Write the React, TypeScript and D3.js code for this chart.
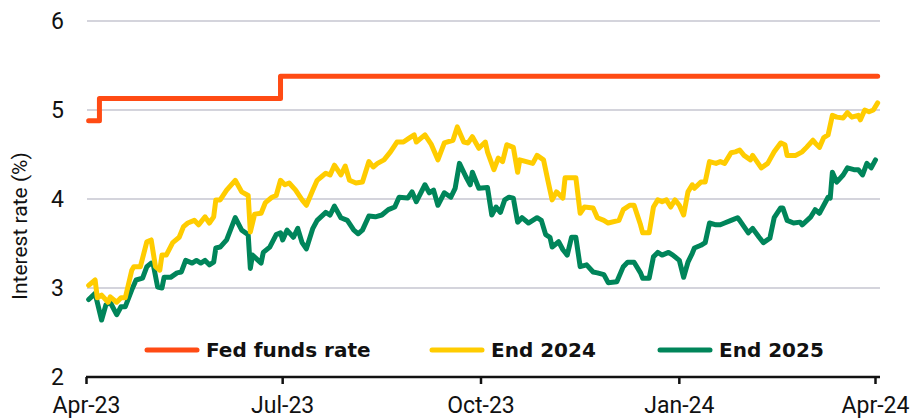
import React, { useEffect, useRef } from "react";
import * as d3 from "d3";

// Fed funds rate (step series)
const fedDates = ["2023-04-02", "2023-04-07", "2023-06-30", "2024-04-02"];
const fedValues = [4.88, 5.13, 5.38, 5.38];

// Market-implied rate at end of 2024
const end2024Dates = [
  "2023-04-02", "2023-04-05", "2023-04-06", "2023-04-08", "2023-04-11", "2023-04-12", "2023-04-15", "2023-04-17",
  "2023-04-19", "2023-04-22", "2023-04-23", "2023-04-26", "2023-04-29", "2023-05-01", "2023-05-03", "2023-05-05",
  "2023-05-06", "2023-05-08", "2023-05-11", "2023-05-14", "2023-05-16", "2023-05-18", "2023-05-21", "2023-05-23",
  "2023-05-26", "2023-05-28", "2023-05-30", "2023-05-31", "2023-06-02", "2023-06-05", "2023-06-09", "2023-06-12",
  "2023-06-15", "2023-06-16", "2023-06-18", "2023-06-21", "2023-06-23", "2023-06-26", "2023-06-28", "2023-06-30",
  "2023-07-02", "2023-07-04", "2023-07-07", "2023-07-10", "2023-07-12", "2023-07-15", "2023-07-17", "2023-07-19",
  "2023-07-21", "2023-07-23", "2023-07-25", "2023-07-28", "2023-07-30", "2023-08-01", "2023-08-04", "2023-08-07",
  "2023-08-10", "2023-08-12", "2023-08-14", "2023-08-17", "2023-08-20", "2023-08-23", "2023-08-26", "2023-08-29",
  "2023-08-31", "2023-09-01", "2023-09-05", "2023-09-08", "2023-09-11", "2023-09-14", "2023-09-18", "2023-09-20",
  "2023-09-23", "2023-09-25", "2023-09-27", "2023-09-30", "2023-10-03", "2023-10-04", "2023-10-07", "2023-10-09",
  "2023-10-11", "2023-10-13", "2023-10-16", "2023-10-18", "2023-10-19", "2023-10-22", "2023-10-25", "2023-10-27",
  "2023-10-30", "2023-11-01", "2023-11-03", "2023-11-05", "2023-11-08", "2023-11-09", "2023-11-14", "2023-11-16",
  "2023-11-18", "2023-11-22", "2023-11-24", "2023-11-27", "2023-11-29", "2023-12-04", "2023-12-06", "2023-12-09",
  "2023-12-11", "2023-12-14", "2023-12-15", "2023-12-18", "2023-12-20", "2023-12-22", "2023-12-24", "2023-12-26",
  "2023-12-28", "2023-12-30", "2024-01-01", "2024-01-03", "2024-01-05", "2024-01-07", "2024-01-08", "2024-01-11",
  "2024-01-13", "2024-01-15", "2024-01-18", "2024-01-20", "2024-01-22", "2024-01-25", "2024-01-27", "2024-01-29",
  "2024-01-31", "2024-02-03", "2024-02-04", "2024-02-08", "2024-02-11", "2024-02-14", "2024-02-17", "2024-02-19",
  "2024-02-20", "2024-02-24", "2024-02-27", "2024-02-29", "2024-03-03", "2024-03-04", "2024-03-06", "2024-03-08",
  "2024-03-10", "2024-03-12", "2024-03-14", "2024-03-17", "2024-03-19", "2024-03-21", "2024-03-24", "2024-03-25",
  "2024-03-27", "2024-03-29", "2024-03-31", "2024-04-02",
];
const end2024Values = [
  3.03, 3.09, 2.89, 2.92, 2.84, 2.9, 2.84, 2.89,
  2.89, 3.2, 3.24, 3.24, 3.52, 3.54, 3.24, 3.2,
  3.37, 3.37, 3.51, 3.57, 3.69, 3.73, 3.76, 3.71,
  3.8, 3.73, 3.8, 3.99, 3.99, 4.1, 4.21, 4.08,
  4.04, 3.63, 3.83, 3.84, 3.96, 4.02, 4.04, 4.21,
  4.16, 4.18, 4.1, 3.99, 3.93, 4.1, 4.21, 4.25,
  4.29, 4.27, 4.38, 4.27, 4.37, 4.21, 4.18, 4.19,
  4.42, 4.36, 4.4, 4.44, 4.53, 4.64, 4.64, 4.69,
  4.72, 4.64, 4.72, 4.61, 4.44, 4.63, 4.66, 4.81,
  4.64, 4.63, 4.7, 4.57, 4.64, 4.53, 4.33, 4.46,
  4.42, 4.61, 4.58, 4.3, 4.44, 4.42, 4.4, 4.49,
  4.44, 4.21, 3.99, 4.08, 4.01, 4.24, 4.24, 3.84,
  3.91, 3.9, 3.79, 3.76, 3.73, 3.76, 3.88, 3.93,
  3.93, 3.71, 3.62, 3.62, 3.91, 3.99, 3.97, 3.99,
  3.91, 3.99, 3.93, 3.82, 4.08, 4.16, 4.12, 4.19,
  4.19, 4.42, 4.4, 4.42, 4.4, 4.52, 4.53, 4.55,
  4.49, 4.44, 4.49, 4.35, 4.4, 4.53, 4.63, 4.61,
  4.49, 4.49, 4.53, 4.58, 4.66, 4.63, 4.58, 4.69,
  4.72, 4.94, 4.92, 4.91, 4.97, 4.92, 4.94, 4.89,
  5.0, 4.98, 5.0, 5.08,
];

// Market-implied rate at end of 2025
const end2025Dates = [
  "2023-04-02", "2023-04-05", "2023-04-08", "2023-04-10", "2023-04-12", "2023-04-15", "2023-04-17", "2023-04-19",
  "2023-04-22", "2023-04-24", "2023-04-27", "2023-04-29", "2023-05-01", "2023-05-02", "2023-05-04", "2023-05-06",
  "2023-05-07", "2023-05-10", "2023-05-13", "2023-05-15", "2023-05-17", "2023-05-20", "2023-05-22", "2023-05-24",
  "2023-05-26", "2023-05-28", "2023-05-30", "2023-05-31", "2023-06-02", "2023-06-05", "2023-06-09", "2023-06-12",
  "2023-06-15", "2023-06-16", "2023-06-17", "2023-06-21", "2023-06-22", "2023-06-25", "2023-06-28", "2023-06-30",
  "2023-07-01", "2023-07-03", "2023-07-06", "2023-07-08", "2023-07-10", "2023-07-12", "2023-07-15", "2023-07-17",
  "2023-07-21", "2023-07-23", "2023-07-25", "2023-07-28", "2023-07-31", "2023-08-03", "2023-08-05", "2023-08-07",
  "2023-08-10", "2023-08-13", "2023-08-16", "2023-08-19", "2023-08-22", "2023-08-24", "2023-08-28", "2023-08-30",
  "2023-09-01", "2023-09-05", "2023-09-07", "2023-09-09", "2023-09-11", "2023-09-14", "2023-09-17", "2023-09-19",
  "2023-09-21", "2023-09-24", "2023-09-26", "2023-09-27", "2023-09-30", "2023-10-04", "2023-10-06", "2023-10-08",
  "2023-10-10", "2023-10-12", "2023-10-14", "2023-10-16", "2023-10-18", "2023-10-20", "2023-10-23", "2023-10-27",
  "2023-10-29", "2023-10-31", "2023-11-02", "2023-11-03", "2023-11-06", "2023-11-08", "2023-11-10", "2023-11-12",
  "2023-11-14", "2023-11-16", "2023-11-19", "2023-11-22", "2023-11-24", "2023-11-27", "2023-11-29", "2023-12-03",
  "2023-12-06", "2023-12-08", "2023-12-11", "2023-12-14", "2023-12-15", "2023-12-18", "2023-12-20", "2023-12-22",
  "2023-12-24", "2023-12-27", "2023-12-29", "2024-01-01", "2024-01-03", "2024-01-05", "2024-01-07", "2024-01-08",
  "2024-01-11", "2024-01-13", "2024-01-15", "2024-01-18", "2024-01-20", "2024-01-22", "2024-01-25", "2024-01-28",
  "2024-01-29", "2024-01-31", "2024-02-02", "2024-02-04", "2024-02-07", "2024-02-09", "2024-02-12", "2024-02-14",
  "2024-02-17", "2024-02-18", "2024-02-20", "2024-02-23", "2024-02-26", "2024-02-27", "2024-03-02", "2024-03-04",
  "2024-03-06", "2024-03-08", "2024-03-10", "2024-03-11", "2024-03-12", "2024-03-14", "2024-03-17", "2024-03-19",
  "2024-03-22", "2024-03-24", "2024-03-26", "2024-03-28", "2024-03-30", "2024-04-01",
];
const end2025Values = [
  2.87, 2.94, 2.64, 2.81, 2.84, 2.7, 2.79, 2.79,
  2.98, 3.09, 3.11, 3.24, 3.28, 3.26, 3.01, 3.0,
  3.12, 3.12, 3.17, 3.18, 3.31, 3.28, 3.31, 3.28,
  3.31, 3.26, 3.29, 3.45, 3.46, 3.54, 3.79, 3.65,
  3.6, 3.22, 3.37, 3.28, 3.4, 3.46, 3.6, 3.62,
  3.54, 3.65, 3.57, 3.67, 3.51, 3.44, 3.67, 3.76,
  3.85, 3.82, 3.92, 3.79, 3.76, 3.65, 3.61, 3.65,
  3.81, 3.8, 3.82, 3.88, 3.91, 4.02, 4.01, 4.08,
  3.97, 4.16, 4.07, 4.1, 3.93, 4.07, 4.02, 4.12,
  4.4, 4.25, 4.16, 4.3, 4.12, 4.13, 3.82, 3.91,
  3.85, 3.99, 4.02, 4.01, 3.74, 3.79, 3.73, 3.79,
  3.76, 3.6, 3.57, 3.46, 3.52, 3.43, 3.37, 3.57,
  3.57, 3.24, 3.26, 3.18, 3.17, 3.15, 3.06, 3.07,
  3.24, 3.29, 3.29, 3.17, 3.11, 3.11, 3.35, 3.4,
  3.37, 3.4, 3.37, 3.31, 3.12, 3.29, 3.39, 3.45,
  3.48, 3.51, 3.73, 3.71, 3.71, 3.73, 3.76, 3.79,
  3.76, 3.69, 3.62, 3.67, 3.57, 3.51, 3.56, 3.79,
  3.9, 3.9, 3.76, 3.73, 3.74, 3.71, 3.8, 3.88,
  3.84, 3.93, 4.02, 4.01, 4.3, 4.19, 4.27, 4.35,
  4.33, 4.33, 4.27, 4.4, 4.35, 4.44,
];

const yTicks = [2, 3, 4, 5, 6];
const gridTicks = [3, 4, 5, 6];
const xTickDates = ["2023-04-01", "2023-07-01", "2023-10-01", "2024-01-01", "2024-04-01"];
const xTickLabels = ["Apr-23", "Jul-23", "Oct-23", "Jan-24", "Apr-24"];

const seriesNames = ["Fed funds rate", "End 2024", "End 2025"];
const seriesColors = ["#FF4B14", "#FFCC00", "#00855A"];

const App = () => {
  const ref = useRef<SVGSVGElement | null>(null);
  const width = 911;
  const height = 420;

  useEffect(() => {
    const parse = d3.timeParse("%Y-%m-%d");
    const svg = d3.select(ref.current);
    svg.selectAll("*").remove();

    const x = d3
      .scaleTime()
      .domain([parse("2023-04-01")!, parse("2024-04-01")!])
      .range([86.5, 875.5]);
    const y = d3.scaleLinear().domain([2, 6]).range([377, 21]);

    const font = "Roboto, 'Noto Sans', sans-serif";
    const boldFont = "'DejaVu Sans', Verdana, sans-serif";

    // gridlines
    svg
      .append("g")
      .selectAll("line")
      .data(gridTicks)
      .join("line")
      .attr("x1", 87)
      .attr("x2", 880)
      .attr("y1", (d) => y(d))
      .attr("y2", (d) => y(d))
      .attr("stroke", "#D4D4DC")
      .attr("stroke-width", 2);

    // y tick labels
    svg
      .append("g")
      .selectAll("text")
      .data(yTicks)
      .join("text")
      .attr("x", 64)
      .attr("y", (d) => y(d))
      .attr("dy", "0.36em")
      .attr("text-anchor", "end")
      .attr("font-family", font)
      .attr("font-size", 23)
      .attr("fill", "#111")
      .text((d) => d);

    // y axis title
    svg
      .append("text")
      .attr("transform", `translate(27, 226) rotate(-90)`)
      .attr("text-anchor", "middle")
      .attr("font-family", font)
      .attr("font-size", 21)
      .attr("fill", "#111")
      .text("Interest rate (%)");

    // x axis
    svg
      .append("line")
      .attr("x1", 86)
      .attr("x2", 880)
      .attr("y1", y(2))
      .attr("y2", y(2))
      .attr("stroke", "#111")
      .attr("stroke-width", 2.5);

    const xt = svg
      .append("g")
      .selectAll("g")
      .data(xTickDates.map((d, i) => ({ date: parse(d)!, label: xTickLabels[i] })))
      .join("g")
      .attr("transform", (d) => `translate(${x(d.date)}, ${y(2)})`);
    xt.append("line").attr("y1", 0).attr("y2", 7).attr("stroke", "#111").attr("stroke-width", 2.5);
    xt.append("text")
      .attr("y", 36)
      .attr("text-anchor", "middle")
      .attr("font-family", font)
      .attr("font-size", 23)
      .attr("fill", "#111")
      .text((d) => d.label);

    // lines
    const toPoints = (dates: string[], values: number[]) =>
      dates.map((d, i) => ({ date: parse(d)!, value: values[i] }));

    const line = d3
      .line<{ date: Date; value: number }>()
      .x((d) => x(d.date))
      .y((d) => y(d.value));
    const stepLine = d3
      .line<{ date: Date; value: number }>()
      .x((d) => x(d.date))
      .y((d) => y(d.value))
      .curve(d3.curveStepAfter);

    const drawSeries = (pts: { date: Date; value: number }[], gen: any, color: string) => {
      svg
        .append("path")
        .datum(pts)
        .attr("fill", "none")
        .attr("stroke", color)
        .attr("stroke-width", 5)
        .attr("stroke-linejoin", "round")
        .attr("stroke-linecap", "round")
        .attr("d", gen);
    };

    drawSeries(toPoints(end2025Dates, end2025Values), line, seriesColors[2]);
    drawSeries(toPoints(end2024Dates, end2024Values), line, seriesColors[1]);
    drawSeries(toPoints(fedDates, fedValues), stepLine, seriesColors[0]);

    // legend
    const legendX = [147, 432, 660];
    const legend = svg
      .append("g")
      .selectAll("g")
      .data(seriesNames)
      .join("g")
      .attr("transform", (_d, i) => `translate(${legendX[i]}, 350)`);
    legend
      .append("line")
      .attr("x1", 0)
      .attr("x2", 50)
      .attr("stroke", (_d, i) => seriesColors[i])
      .attr("stroke-width", 5)
      .attr("stroke-linecap", "round");
    legend
      .append("text")
      .attr("x", 59)
      .attr("dy", "0.36em")
      .attr("font-family", boldFont)
      .attr("font-weight", "bold")
      .attr("font-size", 20)
      .attr("fill", "#111")
      .text((d) => d);
  }, []);

  return (
    <svg
      ref={ref}
      width={width}
      height={height}
      style={{ position: "absolute", left: 0, top: 0, background: "#fff" }}
    />
  );
};

export default App;
